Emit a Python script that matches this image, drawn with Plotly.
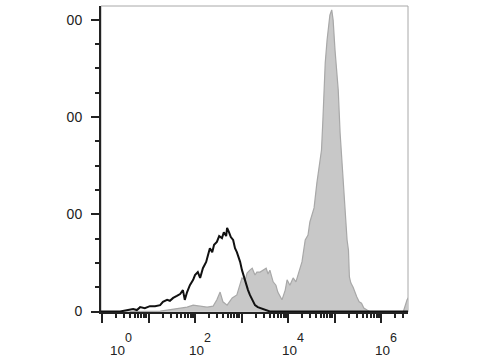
import numpy as np
import plotly.graph_objects as go

# Gray (stained) histogram: x in decades (log10 of fluorescence), y = count
gray_log_x = [0.60, 1.03, 1.25, 1.40, 1.53, 1.68, 1.83, 1.96, 2.11, 2.26, 2.39, 2.47, 2.54, 2.60,
              2.69, 2.80, 2.90, 2.97, 3.01, 3.08, 3.12, 3.18, 3.23, 3.29, 3.33, 3.40, 3.46,
              3.53, 3.57, 3.61, 3.68, 3.74, 3.78, 3.83, 3.87, 3.94, 3.98, 4.04, 4.11, 4.17,
              4.22, 4.26, 4.30, 4.37, 4.43, 4.47, 4.52, 4.56, 4.62, 4.69, 4.72, 4.75, 4.80,
              4.84, 4.88, 4.90, 4.94, 4.97, 5.01, 5.03, 5.08, 5.12, 5.16, 5.19, 5.23, 5.27,
              5.30, 5.32, 5.35, 5.40, 5.48, 5.53, 5.58, 5.63, 5.70, 5.76, 6.48, 6.52, 6.56, 6.60]
gray_counts = [0, 0, 1, 3, 5, 7, 9, 13, 11, 9, 11, 24, 40, 20,
               13, 28, 34, 54, 69, 65, 79, 85, 89, 75, 81, 81, 85,
               89, 77, 85, 61, 54, 40, 32, 24, 44, 65, 54, 69, 61,
               79, 89, 102, 147, 157, 184, 202, 213, 264, 305, 332, 394, 511,
               558, 589, 609, 620, 599, 538, 511, 455, 367, 311, 264, 194, 147,
               126, 71, 59, 50, 30, 20, 17, 7, 3, 0, 0, 13, 24, 30]

# Black (control) histogram
black_log_x = [-0.05, 0.39, 0.56, 0.67, 0.75, 0.82, 0.92, 1.03, 1.14, 1.25, 1.31, 1.40, 1.46,
               1.53, 1.61, 1.68, 1.74, 1.78, 1.83, 1.89, 1.96, 2.00, 2.06, 2.11, 2.17, 2.24,
               2.28, 2.32, 2.37, 2.41, 2.47, 2.52, 2.58, 2.62, 2.67, 2.69, 2.73, 2.77, 2.82,
               2.86, 2.90, 2.97, 3.01, 3.08, 3.14, 3.18, 3.23, 3.29, 3.35, 3.40, 3.46, 3.55,
               3.61, 6.60]
black_counts = [0, 0, 3, 5, 3, 9, 7, 11, 11, 13, 20, 24, 22,
                28, 32, 36, 44, 24, 40, 54, 65, 75, 81, 69, 89, 102,
                116, 130, 122, 137, 143, 155, 151, 163, 155, 172, 163, 153, 147,
                130, 122, 102, 85, 61, 44, 34, 24, 13, 9, 7, 5, 1,
                0, 0]

y_tick_vals = [0, 200, 400, 600]
y_tick_text = ["0", "00", "00", "00"]
x_major_vals = [1, 10, 100, 1000, 10000, 100000, 1000000]
x_label_exps = [0, 2, 4, 6]

gray_x = 10 ** np.array(gray_log_x)
black_x = 10 ** np.array(black_log_x)

fig = go.Figure()
fig.add_trace(go.Scatter(x=gray_x, y=gray_counts, mode="lines", fill="tozeroy",
                         fillcolor="#c8c8c8", line=dict(color="#a8a8a8", width=1.2),
                         hoverinfo="skip"))
fig.add_trace(go.Scatter(x=black_x, y=black_counts, mode="lines",
                         line=dict(color="#111111", width=2), hoverinfo="skip"))

minor_x = [m * 10 ** k for k in range(0, 7) for m in range(2, 10)]

fig.update_layout(
    width=480, height=360,
    margin=dict(l=101, r=72, t=6, b=48),
    paper_bgcolor="white", plot_bgcolor="white",
    showlegend=False,
    font=dict(family="Liberation Sans, Arial, sans-serif", color="#222222"),
    xaxis=dict(type="log", range=[-0.0215, 6.58], showgrid=False, zeroline=False,
               showline=True, linecolor="#222222", linewidth=2,
               tickmode="array", tickvals=x_major_vals, ticktext=[""] * len(x_major_vals),
               ticks="outside", ticklen=9, tickwidth=2, tickcolor="#222222",
               minor=dict(tickmode="array", tickvals=minor_x, ticks="outside",
                          ticklen=4, tickwidth=1.5, tickcolor="#222222", showgrid=False)),
    yaxis=dict(range=[-1, 628], showgrid=False, zeroline=False,
               showline=True, linecolor="#222222", linewidth=2,
               tickmode="array", tickvals=y_tick_vals, ticktext=y_tick_text,
               ticks="outside", ticklen=8, tickwidth=2, tickcolor="#222222",
               tickfont=dict(size=14, color="#222222"), ticklabelstandoff=6,
               minor=dict(dtick=50, ticks="outside", ticklen=4, tickwidth=1.5,
                          tickcolor="#222222", showgrid=False)),
)

# light frame on top/right
fig.add_shape(type="rect", xref="paper", yref="paper", x0=0, y0=0, x1=1, y1=1,
              line=dict(color="#a8a8a8", width=1), layer="below")

# decade labels "10" with exponent
for e in x_label_exps:
    shift = 15 if e == 0 else 1
    fig.add_annotation(x=e, xref="x", y=0, yref="paper", text="10", showarrow=False,
                       xanchor="center", yanchor="middle",
                       xshift=shift, yshift=-38, font=dict(size=13.5, color="#222222"))
    fig.add_annotation(x=e, xref="x", y=0, yref="paper", text=str(e), showarrow=False,
                       xanchor="center", yanchor="middle",
                       xshift=shift + 11, yshift=-26, font=dict(size=12.5, color="#222222"))

fig.write_html("out.html")
